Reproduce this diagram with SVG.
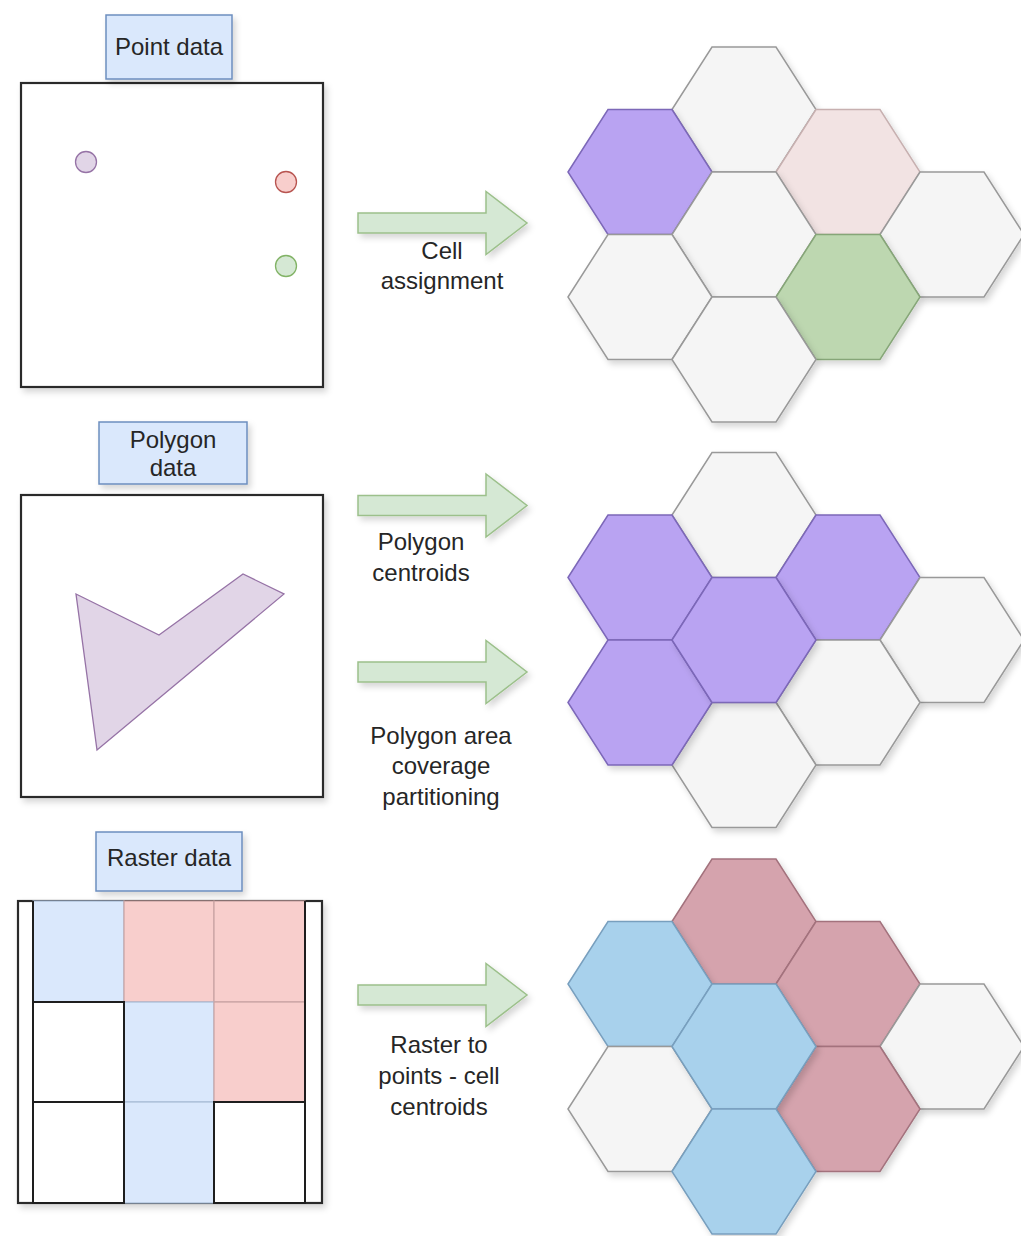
<svg xmlns="http://www.w3.org/2000/svg" xmlns:xlink="http://www.w3.org/1999/xlink" width="1021" height="1236" viewBox="0 0 1021 1236">
<defs>
<filter id="sh" x="-20%" y="-20%" width="150%" height="150%">
<feDropShadow dx="3" dy="4" stdDeviation="3" flood-color="#000" flood-opacity="0.16"/>
</filter>
<polygon id="hex" points="-72,0 -32,-62.5 32,-62.5 72,0 32,62.5 -32,62.5"/>
<path id="arrow" d="M358,-10 H486 V-31.5 L527,0 L486,31.5 V10 H358 Z"/>
</defs>
<style>
text{font-family:"Liberation Sans",Arial,sans-serif;font-size:24px;fill:#262626;text-anchor:middle}
.box{fill:#fff;stroke:#2b2b2b;stroke-width:2.2;filter:url(#sh)}
.lbl{fill:#dae8fc;stroke:#6c8ebf;stroke-width:1.5;filter:url(#sh)}
.arr{fill:#d5e8d4;stroke:#9cc08b;stroke-width:1.5;filter:url(#sh)}
.hw{fill:#f5f5f5;stroke:#999;stroke-width:1.5;filter:url(#sh)}
.hp{fill:#b9a3f2;stroke:#7c67b8;stroke-width:1.5;filter:url(#sh)}
.hk{fill:#f2e3e3;stroke:#c7b0b0;stroke-width:1.5;filter:url(#sh)}
.hg{fill:#bdd7b0;stroke:#86a678;stroke-width:1.5;filter:url(#sh)}
.hb{fill:#a8d1ec;stroke:#789fbe;stroke-width:1.5;filter:url(#sh)}
.hr{fill:#d5a3ad;stroke:#a3727d;stroke-width:1.5;filter:url(#sh)}
.cb{fill:#dae8fc;stroke:#a9bcd6;stroke-width:1.2}
.cr{fill:#f8cecc;stroke:#c9a3a2;stroke-width:1.2}
.cw{fill:#fff;stroke:#1e1e1e;stroke-width:2}
</style>
<rect width="1021" height="1236" fill="#fff"/>

<!-- Point data -->
<g id="point-box">
<rect class="box" x="21" y="83" width="302" height="304"/>
<circle cx="86" cy="162" r="10.5" fill="#e1d5e7" stroke="#9673a6" stroke-width="1.3"/>
<circle cx="286" cy="182" r="10.5" fill="#f8cecc" stroke="#b85450" stroke-width="1.3"/>
<circle cx="286" cy="266" r="10.5" fill="#d5e8d4" stroke="#82b366" stroke-width="1.3"/>
</g>
<g id="point-label">
<rect class="lbl" x="106" y="15" width="126" height="64"/>
<text x="169" y="55">Point data</text>
</g>

<!-- Polygon data -->
<g id="polygon-box">
<rect class="box" x="21" y="495" width="302" height="302"/>
<polygon points="76,594 159,635 243,574 284,594 97,750" fill="#e1d5e7" stroke="#9673a6" stroke-width="1.3"/>
</g>
<g id="polygon-label">
<rect class="lbl" x="99" y="422" width="148" height="62"/>
<text x="173" y="448">Polygon</text>
<text x="173" y="476">data</text>
</g>

<!-- Raster data -->
<g id="raster-box">
<rect class="box" x="18" y="901" width="304" height="302"/>
<rect class="cb" x="33" y="901" width="91" height="101"/>
<rect class="cr" x="124" y="901" width="90" height="101"/>
<rect class="cr" x="214" y="901" width="91" height="101"/>
<rect class="cb" x="124" y="1002" width="90" height="100"/>
<rect class="cr" x="214" y="1002" width="91" height="100"/>
<rect class="cb" x="124" y="1102" width="90" height="101"/>
<rect class="cw" x="33" y="1002" width="91" height="100"/>
<rect class="cw" x="33" y="1102" width="91" height="101"/>
<rect class="cw" x="214" y="1102" width="91" height="101"/>
<line x1="33" y1="901" x2="33" y2="1203" stroke="#1e1e1e" stroke-width="2"/>
<line x1="305" y1="901" x2="305" y2="1203" stroke="#1e1e1e" stroke-width="2"/>
</g>
<g id="raster-label">
<rect class="lbl" x="96" y="832" width="146" height="59"/>
<text x="169" y="866">Raster data</text>
</g>

<!-- Connectors (block arrows) -->
<g id="connectors">
<use href="#arrow" class="arr" transform="translate(0,223)"/>
<use href="#arrow" class="arr" transform="translate(0,505.5)"/>
<use href="#arrow" class="arr" transform="translate(0,672)"/>
<use href="#arrow" class="arr" transform="translate(0,995)"/>
<text x="442" y="259">Cell</text>
<text x="442" y="289">assignment</text>
<text x="421" y="550">Polygon</text>
<text x="421" y="581">centroids</text>
<text x="441" y="744">Polygon area</text>
<text x="441" y="774">coverage</text>
<text x="441" y="805">partitioning</text>
<text x="439" y="1053">Raster to</text>
<text x="439" y="1084">points - cell</text>
<text x="439" y="1115">centroids</text>
</g>

<!-- Hex grid 1: cell assignment -->
<g id="hex1-a"><use href="#hex" class="hw" x="744" y="109.5"/></g>
<g id="hex1-b"><use href="#hex" class="hp" x="640" y="172"/></g>
<g id="hex1-c"><use href="#hex" class="hk" x="848" y="172"/></g>
<g id="hex1-d"><use href="#hex" class="hw" x="744" y="234.5"/></g>
<g id="hex1-e"><use href="#hex" class="hw" x="952" y="234.5"/></g>
<g id="hex1-f"><use href="#hex" class="hw" x="640" y="297"/></g>
<g id="hex1-g"><use href="#hex" class="hg" x="848" y="297"/></g>
<g id="hex1-h"><use href="#hex" class="hw" x="744" y="359.5"/></g>

<!-- Hex grid 2: polygons -->
<g id="hex2-a"><use href="#hex" class="hw" x="744" y="515"/></g>
<g id="hex2-b"><use href="#hex" class="hp" x="640" y="577.5"/></g>
<g id="hex2-c"><use href="#hex" class="hp" x="848" y="577.5"/></g>
<g id="hex2-e"><use href="#hex" class="hw" x="952" y="640"/></g>
<g id="hex2-g"><use href="#hex" class="hw" x="848" y="702.5"/></g>
<g id="hex2-h"><use href="#hex" class="hw" x="744" y="765"/></g>
<g id="hex2-f"><use href="#hex" class="hp" x="640" y="702.5"/></g>
<g id="hex2-d"><use href="#hex" class="hp" x="744" y="640"/></g>

<!-- Hex grid 3: raster -->
<g id="hex3-a"><use href="#hex" class="hr" x="744" y="921.5"/></g>
<g id="hex3-b"><use href="#hex" class="hb" x="640" y="984"/></g>
<g id="hex3-c"><use href="#hex" class="hr" x="848" y="984"/></g>
<g id="hex3-e"><use href="#hex" class="hw" x="952" y="1046.5"/></g>
<g id="hex3-f"><use href="#hex" class="hw" x="640" y="1109"/></g>
<g id="hex3-g"><use href="#hex" class="hr" x="848" y="1109"/></g>
<g id="hex3-d"><use href="#hex" class="hb" x="744" y="1046.5"/></g>
<g id="hex3-h"><use href="#hex" class="hb" x="744" y="1171.5"/></g>
</svg>
